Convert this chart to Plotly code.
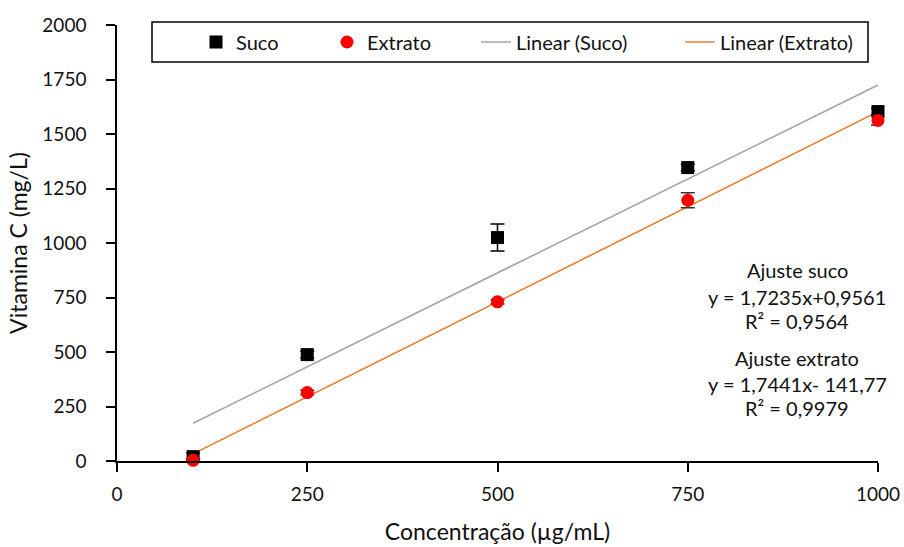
import plotly.graph_objects as go

# ---- data ----
conc = [100, 250, 500, 750, 1000]
suco = [20, 488, 1025, 1346, 1603]
suco_err = [15, 15, 62, 15, 15]
extrato = [3, 314, 730, 1196, 1562]
extrato_err = [8, 10, 10, 34, 22]

# trendline coefficients as printed on the chart
fit_names = ["Linear (Suco)", "Linear (Extrato)"]
fit_slope = [1.7235, 1.7441]
fit_intercept = [0.9561, -141.77]
fit_x = [100, 1000]

ann_suco = ["Ajuste suco", "y = 1,7235x+0,9561", "R² = 0,9564"]
ann_extrato = ["Ajuste extrato", "y = 1,7441x- 141,77", "R² = 0,9979"]

x_ticks = [0, 250, 500, 750, 1000]
y_ticks = [0, 250, 500, 750, 1000, 1250, 1500, 1750, 2000]

FONT = "Lato"
TXT = "#111111"

# plot-area geometry in pixels (for placing the legend entries)
L, R, T, B = 117, 26, 25, 86
W, H = 904, 547
PW = W - L - R
PH = H - T - B


def px_x(p):
    return (p - L) / PW


def px_y(p):
    return (H - B - p) / PH


fig = go.Figure()

# trendlines (drawn below markers)
fit_colors = ["#a6a6a6", "#ed7d31"]
fit_legends = ["legend3", "legend4"]
for i, name in enumerate(fit_names):
    fig.add_trace(go.Scatter(
        x=fit_x, y=[fit_slope[i] * v + fit_intercept[i] for v in fit_x],
        mode="lines", name=name, legend=fit_legends[i],
        line=dict(color=fit_colors[i], width=1.6),
        hoverinfo="skip"))

fig.add_trace(go.Scatter(
    x=conc, y=suco, mode="markers", name="Suco", legend="legend",
    marker=dict(symbol="square", size=13, color="black"),
    error_y=dict(type="data", array=suco_err, color="black", thickness=1.5, width=7),
    cliponaxis=False))

fig.add_trace(go.Scatter(
    x=conc, y=extrato, mode="markers", name="Extrato", legend="legend2",
    marker=dict(symbol="circle", size=13, color="#ff0000"),
    error_y=dict(type="data", array=extrato_err, color="#333333", thickness=1.5, width=7),
    cliponaxis=False))

annotations = []
ys_suco = [0.437, 0.377, 0.322]
ys_ext = [0.237, 0.177, 0.122]
for lines, ys in ((ann_suco, ys_suco), (ann_extrato, ys_ext)):
    for t, yy in zip(lines, ys):
        annotations.append(dict(
            text=t, x=0.894, y=yy, xref="paper", yref="paper",
            xanchor="center", yanchor="middle", showarrow=False,
            font=dict(family=FONT, size=20, color=TXT)))

leg_common = dict(orientation="h", yanchor="middle", xanchor="left",
                  bgcolor="rgba(0,0,0,0)", borderwidth=0,
                  font=dict(family=FONT, size=20, color=TXT))
leg_y = px_y(42)

fig.update_layout(
    width=W, height=H,
    margin=dict(l=L, r=R, t=T, b=B, autoexpand=False),
    paper_bgcolor="white", plot_bgcolor="white",
    font=dict(family=FONT, size=18, color=TXT),
    showlegend=True,
    legend=dict(x=px_x(196), y=leg_y, **leg_common),
    legend2=dict(x=px_x(327), y=leg_y, **leg_common),
    legend3=dict(x=px_x(476), y=leg_y, **leg_common),
    legend4=dict(x=px_x(680), y=leg_y, **leg_common),
    shapes=[dict(type="rect", xref="paper", yref="paper",
                 x0=px_x(152), x1=px_x(868), y0=px_y(62), y1=px_y(22),
                 line=dict(color="black", width=1.5), fillcolor="white",
                 layer="above")],
    annotations=annotations,
    xaxis=dict(
        range=[0, 1000], tickvals=x_ticks, ticktext=[str(v) for v in x_ticks],
        automargin=False,
        showgrid=False, zeroline=False, showline=True, linecolor="black", linewidth=1.5,
        ticks="outside", ticklen=9, tickwidth=1.5, tickcolor="black",
        ticklabelstandoff=6,
        tickfont=dict(family=FONT, size=19, color=TXT),
        title=dict(text="Concentração (µg/mL)", standoff=20,
                   font=dict(family=FONT, size=23, color=TXT))),
    yaxis=dict(
        range=[0, 2000], tickvals=y_ticks, ticktext=[str(v) for v in y_ticks],
        automargin=False,
        showgrid=False, zeroline=False, showline=True, linecolor="black", linewidth=1.5,
        ticks="outside", ticklen=9, tickwidth=1.5, tickcolor="black",
        ticklabelstandoff=16,
        tickfont=dict(family=FONT, size=19, color=TXT),
        title=dict(text="Vitamina C (mg/L)", standoff=8,
                   font=dict(family=FONT, size=23, color=TXT))),
)

fig.write_html("out.html")
